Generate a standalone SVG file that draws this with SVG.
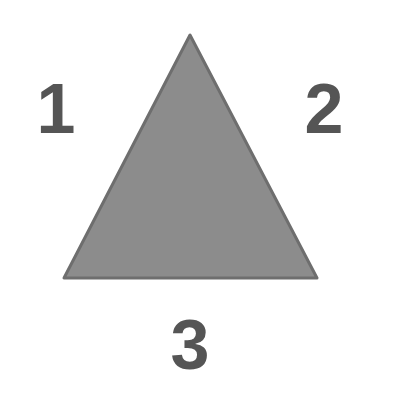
<svg xmlns="http://www.w3.org/2000/svg" width="400" height="407" viewBox="0 0 400 407">
<style>
.lbl{font-family:"Liberation Sans",Arial,sans-serif;font-weight:bold;font-size:70px;fill:#555555;text-anchor:middle}
</style>
<rect width="400" height="407" fill="#ffffff"/>
<g id="triangle">
<polygon points="190,35 64,278 317,278" fill="#8c8c8c" stroke="#6e6e6e" stroke-width="3" stroke-linejoin="round"/>
</g>
<g id="label1"><text class="lbl" x="56" y="133">1</text></g>
<g id="label2"><text class="lbl" x="324" y="133">2</text></g>
<g id="label3"><text class="lbl" x="190" y="369">3</text></g>
</svg>
